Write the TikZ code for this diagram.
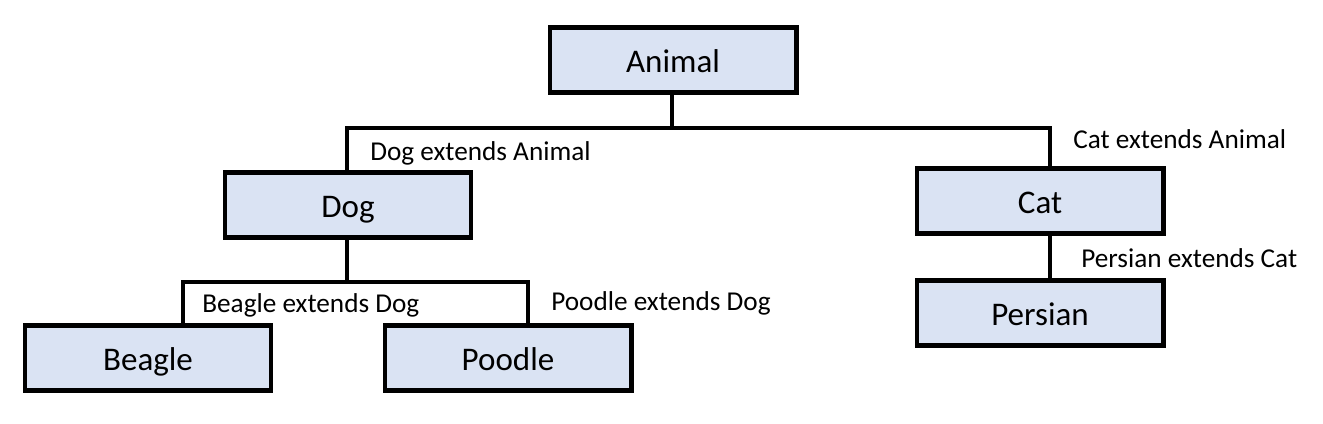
\documentclass[tikz,border=0pt]{standalone}
\usepackage{fontspec}
\setmainfont{Carlito}
\usepackage{xcolor}
\definecolor{boxblue}{HTML}{DAE3F3}
\usetikzlibrary{positioning}

\begin{document}
\begin{tikzpicture}[x=0.02cm, y=-0.02cm,
  cls/.style={draw=black, line width=2.3pt, fill=boxblue, inner sep=0pt,
              minimum width=4.94cm, minimum height=1.3cm,
              text height=14pt, text depth=0pt,
              font=\fontsize{18.8}{22}\selectfont},
  ln/.style={line width=2.5pt, black},
  lab/.style={anchor=west, inner sep=0pt, font=\fontsize{15.5}{18}\selectfont}]
\useasboundingbox (0,0) rectangle (1323,423);

% classes
\node[cls] (animal)  at (673, 60)  {Animal};
\node[cls] (dog)     at (348, 205) {Dog};
\node[cls] (cat)     at (1040, 201){Cat};
\node[cls] (beagle)  at (148, 358) {Beagle};
\node[cls] (poodle)  at (508, 358) {Poodle};
\node[cls] (persian) at (1040, 313){Persian};

% junctions
\coordinate (ja) at (672, 128);
\coordinate (jd) at (347, 282);

% inheritance lines
\draw[ln] (animal.south -| ja) -- (ja);
\draw[ln] ([xshift=-0.02cm]dog.north) |- (ja) -| ([xshift=0.2cm]cat.north);
\draw[ln] ([xshift=-0.02cm]dog.south) -- (jd);
\draw[ln] ([xshift=0.7cm]beagle.north) |- (jd) -| ([xshift=0.4cm]poodle.north);
\draw[ln] ([xshift=0.2cm]cat.south) -- ([xshift=0.2cm]persian.north);

% labels
\node[lab] (ldog)     at (370, 153)  {Dog extends Animal};
\node[lab] (lcat)     at (1073, 139) {Cat extends Animal};
\node[lab] (lbeagle)  at (202, 305)  {Beagle extends Dog};
\node[lab] (lpoodle)  at (551, 303)  {Poodle extends Dog};
\node[lab] (lpersian) at (1081, 258) {Persian extends Cat};
\end{tikzpicture}
\end{document}
